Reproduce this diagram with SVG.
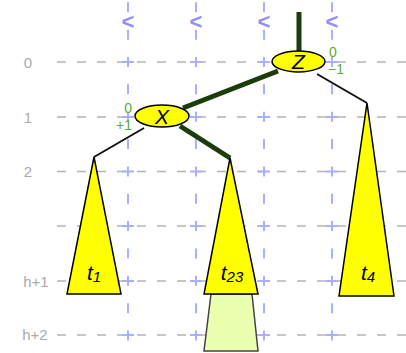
<svg xmlns="http://www.w3.org/2000/svg" width="406" height="353" viewBox="0 0 406 353">
<style>
.grid{stroke:#b5b5b5;stroke-width:1.6;stroke-dasharray:9 11;fill:none}
.vgrid{stroke:#aab0ff;stroke-width:2;stroke-dasharray:10 17.35;fill:none}
.tick{stroke:#aab0ff;stroke-width:2}
.lvl{font-family:"Liberation Sans",Arial,sans-serif;font-size:15px;fill:#aaaaaa;text-anchor:middle}
.lt{font-family:"Liberation Sans",Arial,sans-serif;font-size:22px;font-weight:bold;fill:#8f8fff;text-anchor:middle}
.bal{font-family:"Liberation Sans",Arial,sans-serif;font-size:14px;fill:#5aaa3a}
.node{fill:#ffff00;stroke:#000;stroke-width:1.5}
.tree{fill:#ffff00;stroke:#000;stroke-width:1.5;stroke-linejoin:miter}
.grow{fill:#eaffb0;stroke:#444;stroke-width:1.5}
.lab{font-family:"Liberation Sans",Arial,sans-serif;font-style:italic;font-size:21px;fill:#000;text-anchor:middle}
.thick{stroke:#1b3d0b;stroke-width:5;fill:none}
.thin{stroke:#111;stroke-width:2;fill:none}
</style>
<g id="grid">
<path class="grid" d="M57 62H406M57 117H406M57 171.5H406M57 226H406M57 281H406M57 335H406"/>
<path class="vgrid" d="M128 2.3V353M196 2.3V353M264 2.3V353M332 2.3V353"/>
<path class="tick" d="M122 62h12M190 62h12M258 62h12M326 62h12M122 117h12M190 117h12M258 117h12M326 117h12M122 171.5h12M190 171.5h12M258 171.5h12M326 171.5h12M122 226h12M190 226h12M258 226h12M326 226h12M122 281h12M190 281h12M258 281h12M326 281h12M122 335h12M190 335h12M258 335h12M326 335h12"/>
<text class="lt" x="128" y="29">&lt;</text>
<text class="lt" x="196" y="29">&lt;</text>
<text class="lt" x="264" y="29">&lt;</text>
<text class="lt" x="332" y="29">&lt;</text>
<text class="lvl" x="28" y="67.5">0</text>
<text class="lvl" x="28" y="122.5">1</text>
<text class="lvl" x="28" y="177">2</text>
<text class="lvl" x="36" y="286.5">h+1</text>
<text class="lvl" x="35" y="340">h+2</text>
</g>
<g id="connectors">
<path class="thick" d="M299 12V51"/>
<path class="thick" d="M278 71L183 108"/>
<path class="thick" d="M180 126L230 158"/>
<path class="thin" d="M317 74L367 103"/>
<path class="thin" d="M144 128L94 157"/>
</g>
<g id="t23grow"><polygon class="grow" points="211,294 252,294 258,351 204,351"/></g>
<g id="t1"><polygon class="tree" points="94,157 121,294 67,294"/><text class="lab" x="94" y="280">t<tspan font-size="15" dy="2">1</tspan></text></g>
<g id="t23"><polygon class="tree" points="230,158 258,294 204,294"/><text class="lab" x="232" y="280">t<tspan font-size="15" dy="2">23</tspan></text></g>
<g id="t4"><polygon class="tree" points="367,103 394,296 339,296"/><text class="lab" x="368" y="280">t<tspan font-size="15" dy="2">4</tspan></text></g>
<g id="Z"><ellipse class="node" cx="298.5" cy="61.5" rx="26.5" ry="10.5"/><text class="lab" x="298.5" y="69">Z</text><text class="bal" x="329" y="57">0</text><text class="bal" x="328" y="74">−1</text></g>
<g id="X"><ellipse class="node" cx="162" cy="116" rx="27" ry="11"/><text class="lab" x="162" y="123.5">X</text><text class="bal" x="132" y="113" text-anchor="end">0</text><text class="bal" x="132" y="130" text-anchor="end">+1</text></g>
</svg>
